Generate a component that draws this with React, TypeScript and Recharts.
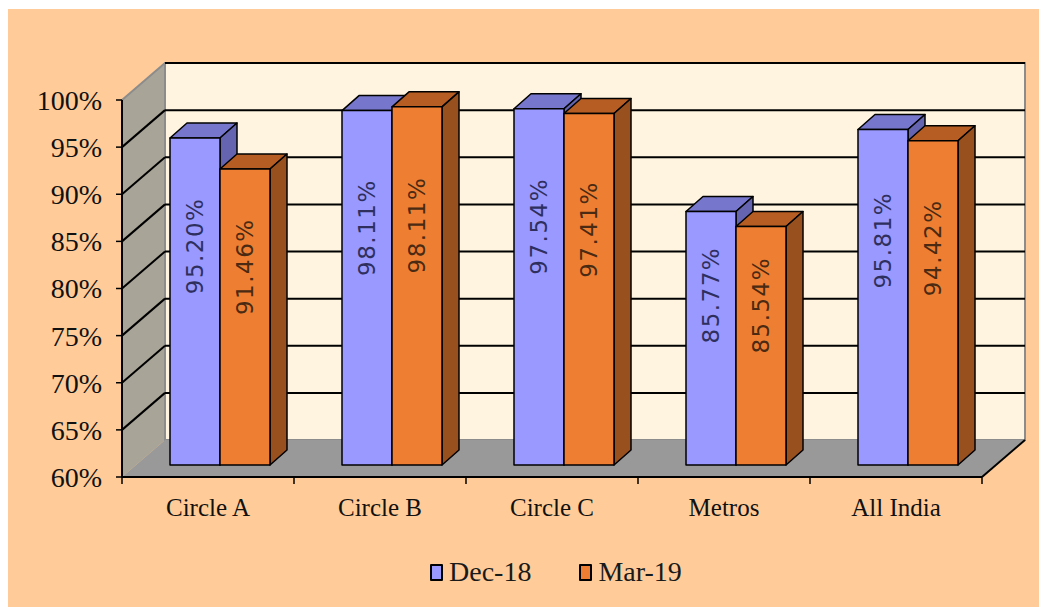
import { BarChart, Bar, XAxis, YAxis, ReferenceArea, LabelList } from 'recharts';

const categories = ['Circle A', 'Circle B', 'Circle C', 'Metros', 'All India'];
// bar heights as drawn in the picture
const dec18 = [94.7, 97.6, 97.8, 86.9, 95.6];
const mar19 = [91.4, 98.0, 97.3, 85.3, 94.4];
// data labels as printed on the bars
const dec18Labels = ['95.20%', '98.11%', '97.54%', '85.77%', '95.81%'];
const mar19Labels = ['91.46%', '98.11%', '97.41%', '85.54%', '94.42%'];
const yTicks = [60, 65, 70, 75, 80, 85, 90, 95, 100];
const seriesNames = ['Dec-18', 'Mar-19'];

const data = categories.map((name, i) => ({
  name, dec: dec18[i], mar: mar19[i], decLabel: dec18Labels[i], marLabel: mar19Labels[i],
}));

const W = 1040, H = 598;
// projection of the 3d box: front floor edge -> back wall
const DEPTH = { x: 43, y: -37 };
// bars stand a little way into the box, and have their own depth
const BAR_SHIFT = { x: 12, y: -12 };
const BAR_DEPTH = { x: 17, y: -15 };

const COLORS = {
  dec: { front: '#9999FF', top: '#7676CC', side: '#6464B0', text: '#2f2f5e' },
  mar: { front: '#EE7F32', top: '#B55D22', side: '#98501F', text: '#4a2a12' },
};

const SERIF = '"Liberation Serif", "Times New Roman", serif';

function Walls(props: any) {
  const { x, y, width: w, height: h } = props;
  const dx = DEPTH.x, dy = DEPTH.y;
  const lo = yTicks[0], hi = yTicks[yTicks.length - 1];
  const yOf = (v: number) => y + ((hi - v) / (hi - lo)) * h;
  const bottom = y + h;
  const band = w / categories.length;
  return (
    <g>
      <polygon points={`${x},${y} ${x + dx},${y + dy} ${x + dx},${bottom + dy} ${x},${bottom}`} fill="#A8A497" />
      <rect x={x + dx} y={y + dy} width={w} height={h} fill="#FFF4DF" stroke="#8c8c8c" strokeWidth={2} />
      <polygon points={`${x},${bottom} ${x + w},${bottom} ${x + w + dx},${bottom + dy} ${x + dx},${bottom + dy}`} fill="#999999" />
      {yTicks.slice(1).map(v => {
        const ty = yOf(v);
        return (
          <g key={v}>
            <line x1={x} y1={ty} x2={x + dx} y2={ty + dy} stroke={v === hi ? '#8c8c8c' : '#000'} strokeWidth={2} />
            <line x1={x + dx} y1={ty + dy} x2={x + dx + w} y2={ty + dy} stroke="#000" strokeWidth={2} />
          </g>
        );
      })}
      <line x1={x + w} y1={bottom} x2={x + w + dx} y2={bottom + dy} stroke="#000" strokeWidth={2} />
      {categories.map((_, k) => (
        <line key={k} x1={x + (k + 1) * band} y1={bottom} x2={x + (k + 1) * band} y2={bottom + 7} stroke="#000" strokeWidth={1.5} />
      ))}
      <line x1={x} y1={bottom} x2={x} y2={bottom + 7} stroke="#000" strokeWidth={1.5} />
    </g>
  );
}

function makeBar(c: typeof COLORS.dec) {
  return (props: any) => {
    const { x, y, width, height } = props;
    if (!height) return <g />;
    const fx = x + BAR_SHIFT.x, fy = y + BAR_SHIFT.y;
    const bx = BAR_DEPTH.x, by = BAR_DEPTH.y;
    return (
      <g stroke="#000" strokeWidth={1.5} strokeLinejoin="round">
        <polygon points={`${fx},${fy} ${fx + bx},${fy + by} ${fx + width + bx},${fy + by} ${fx + width},${fy}`} fill={c.top} />
        <polygon points={`${fx + width},${fy} ${fx + width + bx},${fy + by} ${fx + width + bx},${fy + height + by} ${fx + width},${fy + height}`} fill={c.side} />
        <rect x={fx} y={fy} width={width} height={height} fill={c.front} />
      </g>
    );
  };
}

function makeLabel(c: typeof COLORS.dec) {
  return (props: any) => {
    const { x, y, width, height, value } = props;
    const cx = Number(x) + BAR_SHIFT.x + Number(width) / 2;
    const cy = Number(y) + BAR_SHIFT.y + Number(height) * 0.33;
    return (
      <text x={cx} y={cy} transform={`rotate(-90 ${cx} ${cy})`} textAnchor="middle" dominantBaseline="central"
        fontFamily='"DejaVu Sans", sans-serif' fontSize={23} letterSpacing={1.5} fill={c.text}>
        {value}
      </text>
    );
  };
}

function LegendBox({ color, label }: { color: string; label: string }) {
  return (
    <div style={{ display: 'flex', alignItems: 'center' }}>
      <div style={{ width: 9, height: 13, border: '2px solid #000', background: color, borderRadius: 1 }} />
      <span style={{ marginLeft: 6, fontFamily: SERIF, fontSize: 28, color: '#1a1a1a', lineHeight: 1 }}>{label}</span>
    </div>
  );
}

export default function App() {
  return (
    <div style={{ position: 'relative', width: W, height: H, background: '#FFCC99', marginLeft: -1, marginTop: 1 }}>
      <BarChart width={W} height={H} data={data} margin={{ top: 91, right: 65, bottom: 0, left: 0 }} barGap={0} barSize={50}>
        <ReferenceArea y1={60} y2={100} ifOverflow="visible" shape={(p: any) => <Walls {...p} />} />
        <XAxis dataKey="name" interval={0} height={130} tickLine={false} tickSize={0} tickMargin={21}
          axisLine={{ stroke: '#000', strokeWidth: 2 }}
          tick={{ fill: '#111', fontSize: 25, fontFamily: SERIF }} />
        <YAxis domain={[60, 100]} ticks={yTicks} width={115} tickSize={6} tickMargin={14}
          tickFormatter={(v: number) => `${v}%`}
          axisLine={{ stroke: '#000', strokeWidth: 2 }} tickLine={{ stroke: '#000', strokeWidth: 1.5 }}
          tick={{ fill: '#111', fontSize: 28, fontFamily: SERIF }} />
        <Bar dataKey="dec" name={seriesNames[0]} isAnimationActive={false} shape={makeBar(COLORS.dec)}>
          <LabelList dataKey="decLabel" content={makeLabel(COLORS.dec)} />
        </Bar>
        <Bar dataKey="mar" name={seriesNames[1]} isAnimationActive={false} shape={makeBar(COLORS.mar)}>
          <LabelList dataKey="marLabel" content={makeLabel(COLORS.mar)} />
        </Bar>
      </BarChart>
      <div style={{ position: 'absolute', left: 423, top: 549, display: 'flex', gap: 48 }}>
        <LegendBox color={COLORS.dec.front} label={seriesNames[0]} />
        <LegendBox color={COLORS.mar.front} label={seriesNames[1]} />
      </div>
    </div>
  );
}
